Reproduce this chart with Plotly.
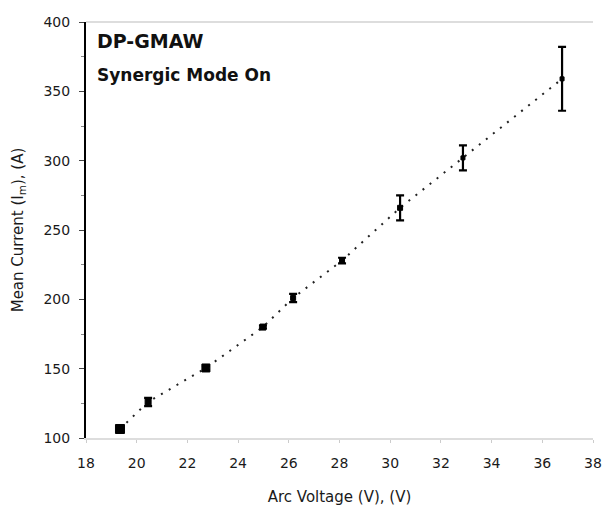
import plotly.graph_objects as go

voltage = [19.34, 20.45, 22.73, 24.98, 26.17, 28.1, 30.39, 32.87, 36.78]
current = [106.5, 126, 150.5, 180, 201, 228, 266, 302, 359]
current_err = [0, 3, 1.5, 1, 3, 2, 9, 9, 23]
x_ticks = [18, 20, 22, 24, 26, 28, 30, 32, 34, 36, 38]
y_ticks = [100, 150, 200, 250, 300, 350, 400]

FONT = "DejaVu Sans, Arial, sans-serif"

fig = go.Figure()
fig.add_trace(go.Scatter(
    x=voltage, y=current,
    mode="lines+markers",
    line=dict(color="#222222", width=2, dash="2px,7px"),
    marker=dict(symbol="square", size=[9, 6, 8, 6, 5, 5, 5, 4, 4], color="black",
                opacity=1, line=dict(color="black", width=1)),
    error_y=dict(type="data", array=current_err, visible=True,
                 color="black", thickness=2.2, width=4),
    showlegend=False,
))

fig.update_layout(
    width=605, height=509,
    margin=dict(l=86, r=12, t=22, b=71),
    plot_bgcolor="white", paper_bgcolor="white",
    font=dict(family=FONT, color="#1a1a1a"),
    xaxis=dict(
        range=[18, 38], tickvals=x_ticks, ticktext=[str(v) for v in x_ticks],
        showgrid=False, zeroline=False, automargin=False,
        showline=True, linecolor="#dddddd", linewidth=2,
        ticks="outside", ticklen=3, tickcolor="#cccccc",
        ticklabelstandoff=8,
        tickfont=dict(size=14, color="#1a1a1a", family=FONT),
        title=dict(text="Arc Voltage (V), (V)", font=dict(size=15, family=FONT), standoff=22),
    ),
    yaxis=dict(
        range=[100, 400], tickvals=y_ticks,
        showgrid=False, zeroline=False, automargin=False,
        showline=True, linecolor="black", linewidth=2,
        ticks="outside", ticklen=5, tickcolor="#444444",
        ticklabelstandoff=6,
        minor=dict(ticks="outside", ticklen=3, tickcolor="#888888", dtick=25),
        tickfont=dict(size=14, color="#1a1a1a", family=FONT),
        title=dict(text="Mean Current (I<sub>m</sub>), (A)", font=dict(size=15, family=FONT), standoff=16),
    ),
    shapes=[dict(type="line", xref="paper", yref="paper", x0=0, x1=1, y0=1, y1=1,
                 line=dict(color="#dddddd", width=2))],
    annotations=[
        dict(text="<b>DP-GMAW</b>", xref="paper", yref="paper", x=0.018, y=0.955,
             xanchor="left", yanchor="middle", showarrow=False,
             font=dict(size=19, color="#111111", family=FONT)),
        dict(text="<b>Synergic Mode On</b>", xref="paper", yref="paper", x=0.018, y=0.873,
             xanchor="left", yanchor="middle", showarrow=False,
             font=dict(size=17, color="#111111", family=FONT)),
    ],
)

fig.write_html("out.html")
